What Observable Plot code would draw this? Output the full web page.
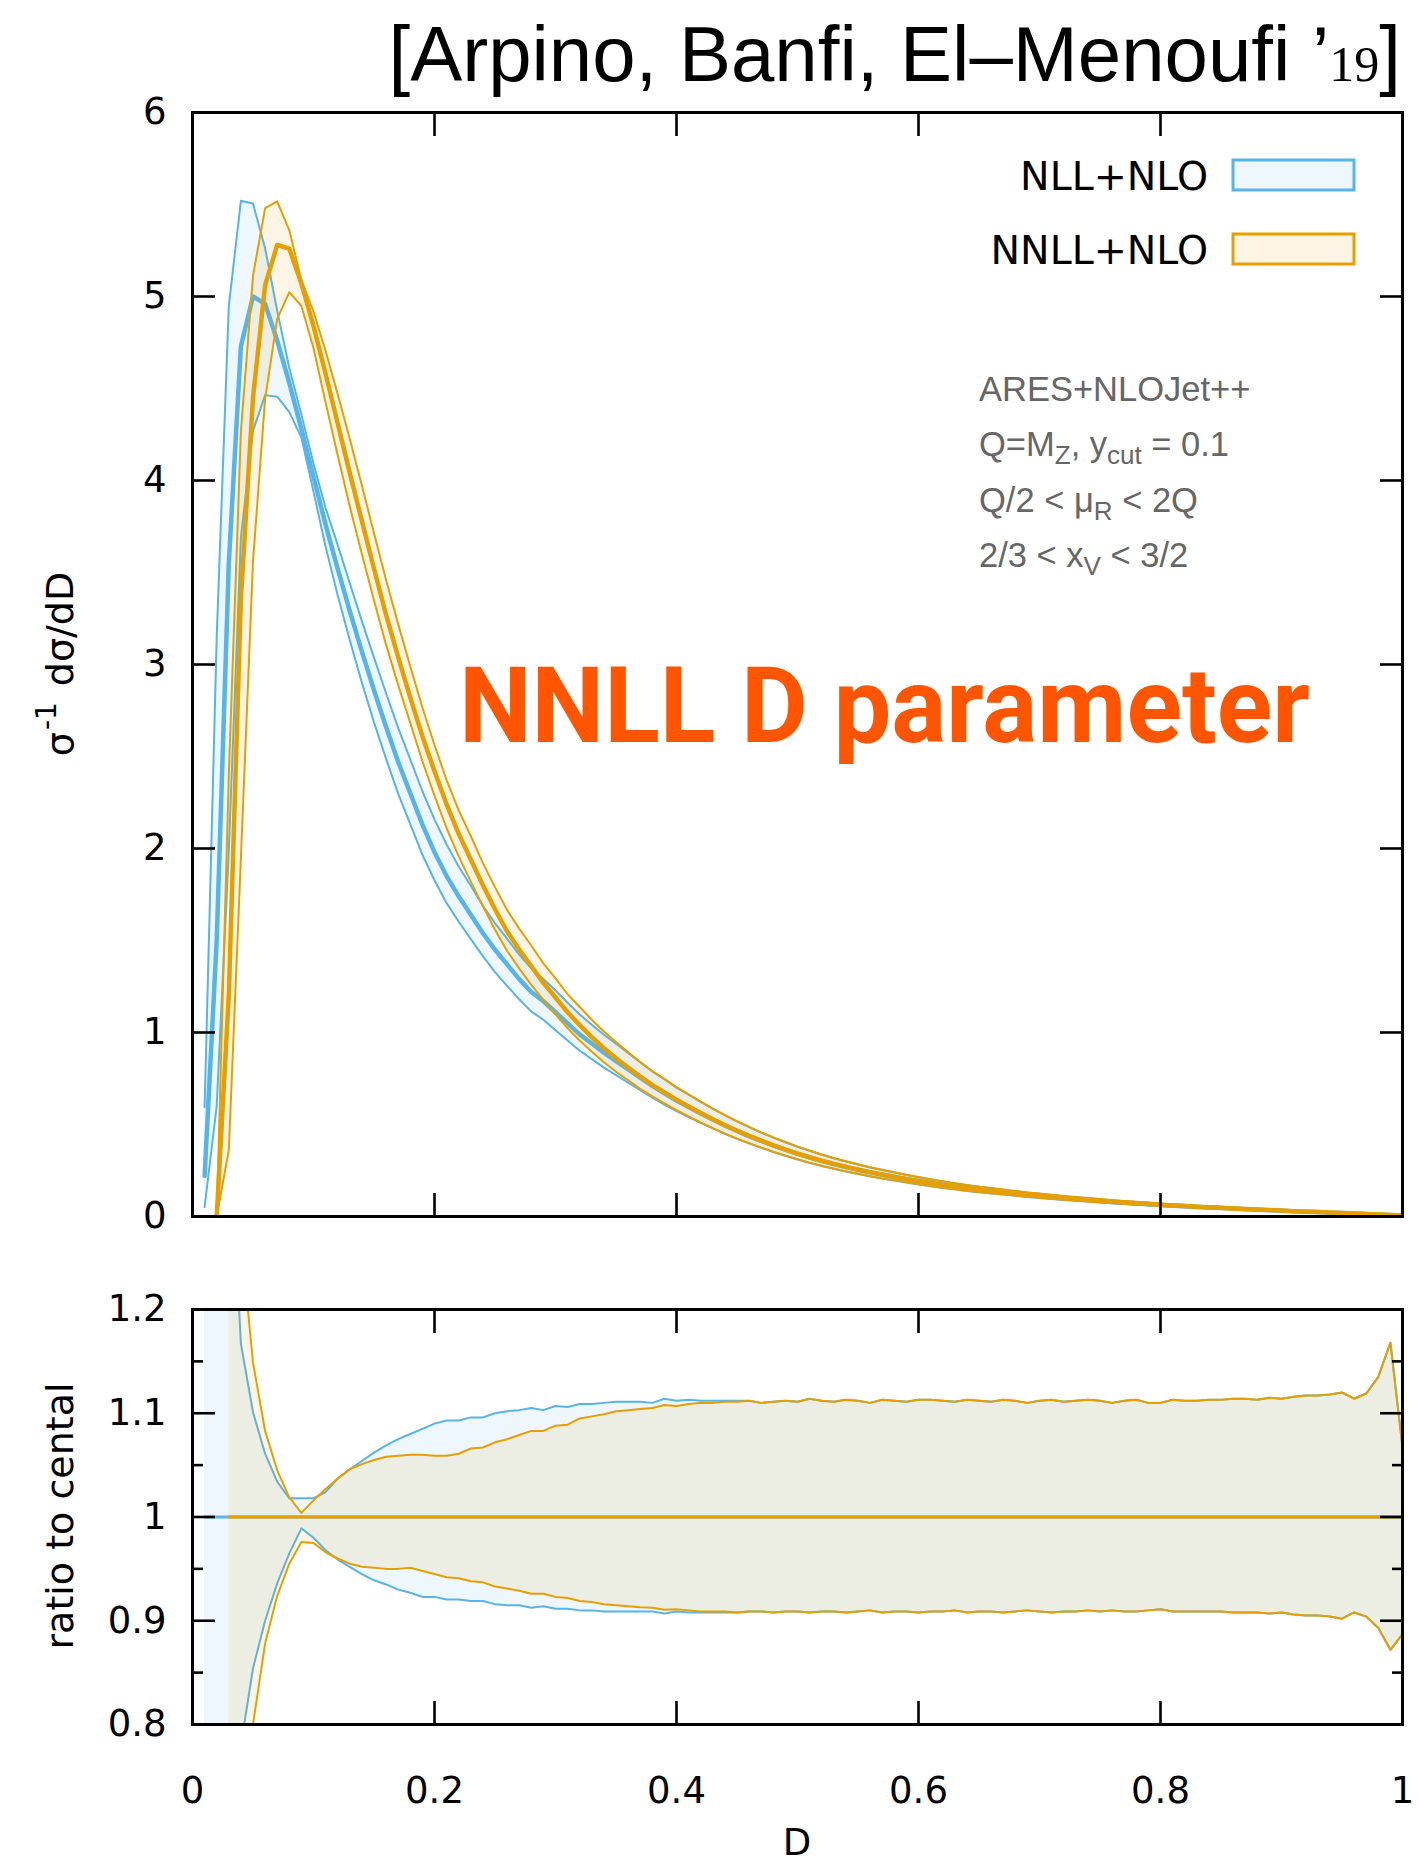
<!DOCTYPE html>
<html>
<head>
<meta charset="utf-8">
<script src="https://cdn.jsdelivr.net/npm/d3@7"></script>
<script src="https://cdn.jsdelivr.net/npm/@observablehq/plot@0.6"></script>
<style>
  html, body { margin: 0; padding: 0; background: #fff; }
  #fig { position: relative; width: 1420px; height: 1866px; overflow: hidden; }
  #fig svg { position: absolute; left: 0; display: block; overflow: visible; }
</style>
</head>
<body>
<div id="fig"></div>
<script>
// D-parameter bins
const D = [
  0.01,0.02,0.03,0.04,0.05,0.06,0.07,0.08,0.09,0.10,
  0.11,0.12,0.13,0.14,0.15,0.16,0.17,0.18,0.19,0.20,
  0.21,0.22,0.23,0.24,0.25,0.26,0.27,0.28,0.29,0.30,
  0.31,0.32,0.33,0.34,0.35,0.36,0.37,0.38,0.39,0.40,
  0.41,0.42,0.43,0.44,0.45,0.46,0.47,0.48,0.49,0.50,
  0.51,0.52,0.53,0.54,0.55,0.56,0.57,0.58,0.59,0.60,
  0.61,0.62,0.63,0.64,0.65,0.66,0.67,0.68,0.69,0.70,
  0.71,0.72,0.73,0.74,0.75,0.76,0.77,0.78,0.79,0.80,
  0.81,0.82,0.83,0.84,0.85,0.86,0.87,0.88,0.89,0.90,
  0.91,0.92,0.93,0.94,0.95,0.96,0.97,0.98,0.99,1.00
];

// NLL+NLO central value of (1/sigma) dsigma/dD
const nllCentral = [
  0.22,1.50,3.55,4.73,5.00,4.96,4.76,4.53,4.28,4.02,
  3.76,3.52,3.29,3.07,2.86,2.66,2.47,2.30,2.13,1.98,
  1.85,1.74,1.64,1.54,1.45,1.37,1.29,1.22,1.17,1.11,
  1.05,0.99,0.94,0.89,0.845,0.80,0.755,0.71,0.67,0.63,
  0.595,0.56,0.527,0.495,0.465,0.437,0.411,0.386,0.363,0.341,
  0.321,0.302,0.285,0.269,0.254,0.240,0.227,0.215,0.203,0.192,
  0.181,0.171,0.162,0.153,0.145,0.138,0.131,0.124,0.117,0.111,
  0.105,0.099,0.094,0.089,0.084,0.079,0.075,0.071,0.067,0.063,
  0.059,0.056,0.052,0.049,0.046,0.043,0.040,0.037,0.034,0.031,
  0.029,0.026,0.024,0.021,0.019,0.016,0.014,0.011,0.008,0.005
];

// NNLL+NLO central value
const nnllCentral = [
  null,0.00,1.20,3.36,4.45,5.06,5.28,5.26,5.07,4.84,
  4.58,4.31,4.04,3.78,3.52,3.27,3.04,2.82,2.61,2.42,
  2.24,2.08,1.94,1.80,1.67,1.55,1.45,1.36,1.27,1.19,
  1.11,1.04,0.975,0.915,0.86,0.81,0.76,0.715,0.675,0.635,
  0.598,0.562,0.528,0.496,0.466,0.438,0.412,0.387,0.364,0.342,
  0.322,0.303,0.286,0.270,0.255,0.241,0.228,0.216,0.204,0.193,
  0.182,0.172,0.163,0.154,0.146,0.139,0.132,0.125,0.118,0.112,
  0.106,0.100,0.095,0.090,0.085,0.080,0.076,0.072,0.068,0.064,
  0.060,0.057,0.053,0.050,0.047,0.044,0.041,0.038,0.035,0.032,
  0.029,0.027,0.024,0.022,0.019,0.017,0.014,0.011,0.008,0.005
];

// scale-variation envelope, as ratio to the central value
const nllUpper = [
  2.70,2.10,1.394,1.167,1.101,1.061,1.034,1.018,1.018,1.018,
  1.024,1.037,1.046,1.054,1.062,1.069,1.075,1.080,1.085,1.090,
  1.093,1.093,1.096,1.096,1.100,1.102,1.103,1.105,1.103,1.107,
  1.106,1.109,1.109,1.110,1.111,1.111,1.111,1.110,1.114,1.112,
  1.113,1.112,1.112,1.112,1.112,1.112,1.110,1.111,1.112,1.111,
  1.114,1.112,1.111,1.113,1.112,1.110,1.113,1.112,1.111,1.113,
  1.113,1.112,1.111,1.113,1.112,1.111,1.113,1.112,1.110,1.112,
  1.113,1.111,1.112,1.113,1.112,1.110,1.112,1.113,1.110,1.110,
  1.113,1.112,1.112,1.113,1.113,1.114,1.114,1.113,1.115,1.114,
  1.116,1.117,1.117,1.118,1.120,1.114,1.119,1.135,1.168,1.067
];
const nllLower = [
  0.23,0.40,0.56,0.78,0.854,0.900,0.936,0.965,0.989,0.980,
  0.968,0.959,0.952,0.945,0.939,0.935,0.930,0.927,0.923,0.923,
  0.9205,0.9205,0.919,0.919,0.916,0.915,0.915,0.9125,0.914,0.9115,
  0.9115,0.910,0.910,0.909,0.909,0.909,0.909,0.909,0.907,0.909,
  0.908,0.908,0.908,0.908,0.908,0.909,0.909,0.908,0.909,0.909,
  0.908,0.909,0.909,0.908,0.909,0.910,0.908,0.909,0.909,0.908,
  0.909,0.909,0.910,0.908,0.909,0.909,0.908,0.909,0.910,0.909,
  0.908,0.909,0.909,0.910,0.909,0.910,0.909,0.909,0.910,0.911,
  0.909,0.909,0.909,0.909,0.909,0.908,0.908,0.908,0.907,0.908,
  0.906,0.905,0.905,0.904,0.902,0.908,0.904,0.893,0.872,0.887
];
const nnllUpper = [
  null,null,2.00,1.27,1.149,1.083,1.045,1.019,1.004,1.016,
  1.027,1.037,1.046,1.051,1.055,1.058,1.059,1.060,1.060,1.059,
  1.059,1.061,1.066,1.067,1.072,1.075,1.079,1.083,1.083,1.088,
  1.089,1.095,1.097,1.099,1.102,1.103,1.104,1.105,1.108,1.107,
  1.109,1.110,1.110,1.111,1.111,1.112,1.110,1.111,1.112,1.111,
  1.114,1.112,1.111,1.113,1.112,1.110,1.113,1.112,1.111,1.113,
  1.113,1.112,1.111,1.113,1.112,1.111,1.113,1.112,1.110,1.112,
  1.113,1.111,1.112,1.113,1.112,1.110,1.112,1.113,1.110,1.110,
  1.113,1.112,1.112,1.113,1.113,1.114,1.114,1.113,1.115,1.114,
  1.116,1.117,1.117,1.118,1.120,1.114,1.119,1.135,1.168,1.067
];
const nnllLower = [
  null,null,0.30,0.58,0.80,0.878,0.924,0.955,0.976,0.975,
  0.966,0.960,0.955,0.952,0.951,0.950,0.950,0.951,0.948,0.945,
  0.942,0.941,0.938,0.937,0.933,0.931,0.929,0.926,0.926,0.923,
  0.922,0.919,0.918,0.916,0.915,0.914,0.913,0.9125,0.9105,0.911,
  0.910,0.909,0.909,0.909,0.908,0.909,0.909,0.908,0.909,0.909,
  0.908,0.909,0.909,0.908,0.909,0.910,0.908,0.909,0.909,0.908,
  0.909,0.909,0.910,0.908,0.909,0.909,0.908,0.909,0.910,0.909,
  0.908,0.909,0.909,0.910,0.909,0.910,0.909,0.909,0.910,0.911,
  0.909,0.909,0.909,0.909,0.909,0.908,0.908,0.908,0.907,0.908,
  0.906,0.905,0.905,0.904,0.902,0.908,0.904,0.893,0.872,0.887
];

// axis ticks
const xTicks = [0, 0.2, 0.4, 0.6, 0.8, 1];
const yTicksTop = [0, 1, 2, 3, 4, 5, 6];
const yTicksRatio = [0.8, 0.9, 1, 1.1, 1.2];
const yMinorRatio = [0.85, 0.95, 1.05, 1.15];

const series = [
  {name: "NLL+NLO", color: "#56B4E9", central: nllCentral, upper: nllUpper, lower: nllLower},
  {name: "NNLL+NLO", color: "#E69F00", central: nnllCentral, upper: nnllUpper, lower: nnllLower}
];

const SANS = "'Liberation Sans', Arial, Helvetica, sans-serif";
const AXIS = "'DejaVu Sans', 'Liberation Sans', sans-serif";
const SERIF = "'Liberation Serif', 'Times New Roman', serif";
const W = 1420, ML = 192, MR = 18;

// one row per bin, with the absolute band edges and the ratios
function rowsOf(s) {
  return D.map((d, i) => {
    const c = s.central[i];
    const ru = s.upper[i], rl = s.lower[i];
    return {
      D: d, c, ru, rl,
      up: c == null ? null : (ru == null ? c : c * ru),
      lo: c == null ? null : (rl == null ? c : c * rl)
    };
  }).filter(r => r.c != null);
}
const fmt = d => String(Math.round(d * 10) / 10);

// inward ticks on all four sides of the frame
function frameTicks(yMajor, yMinor) {
  const sw = 2.6, big = 23, small = 11;
  const m = [];
  for (const anchor of ["bottom", "top"]) {
    m.push(Plot.axisX(xTicks, {anchor, tickSize: -big, strokeWidth: sw, tickFormat: () => "", label: null}));
  }
  for (const anchor of ["left", "right"]) {
    m.push(Plot.axisY(yMajor, {anchor, tickSize: -big, strokeWidth: sw, tickFormat: () => "", label: null}));
    if (yMinor) m.push(Plot.axisY(yMinor, {anchor, tickSize: -small, strokeWidth: sw, tickFormat: () => "", label: null}));
  }
  return m;
}

function bandMarks(s, rows, ratio) {
  const thick = ratio ? 3 : 4.5, thin = 2;
  const y1 = ratio ? "rl" : "lo", y2 = ratio ? "ru" : "up";
  const data = ratio ? rows.filter(r => r.ru != null) : rows;
  return [
    Plot.areaY(data, {x: "D", y1, y2, fill: s.color, fillOpacity: 0.1, clip: true}),
    Plot.lineY(data, {x: "D", y: y2, stroke: s.color, strokeWidth: thin, clip: true}),
    Plot.lineY(data, {x: "D", y: y1, stroke: s.color, strokeWidth: thin, clip: true}),
    Plot.lineY(ratio ? rows.filter(r => r.c > 0) : rows,
      {x: "D", y: ratio ? (r => r.c / r.c) : "c", stroke: s.color, strokeWidth: thick, clip: true})
  ];
}

const rowsNLL = rowsOf(series[0]);
const rowsNNLL = rowsOf(series[1]);
const plotStyle = {fontFamily: AXIS, fontSize: "37px", color: "#000", background: "transparent", overflow: "visible"};

// ---------- distribution panel ----------
const TOP_H = 1260;
const topPlot = Plot.plot({
  width: W, height: TOP_H,
  marginLeft: ML, marginRight: MR, marginTop: 112, marginBottom: 44,
  x: {domain: [0, 1]},
  y: {domain: [0, 6]},
  style: plotStyle,
  marks: [
    ...bandMarks(series[0], rowsNLL, false),
    ...bandMarks(series[1], rowsNNLL, false),
    Plot.frame({stroke: "#000", strokeWidth: 3}),
    ...frameTicks(yTicksTop, null),
    Plot.axisY(yTicksTop, {anchor: "left", tickSize: 0, tickPadding: 26, tickFormat: fmt, label: null})
  ]
});

// ---------- ratio panel ----------
const BOT_H = 606;
const botPlot = Plot.plot({
  width: W, height: BOT_H,
  marginLeft: ML, marginRight: MR, marginTop: 49, marginBottom: 142,
  x: {domain: [0, 1]},
  y: {domain: [0.8, 1.2]},
  style: plotStyle,
  marks: [
    ...bandMarks(series[0], rowsNLL, true),
    ...bandMarks(series[1], rowsNNLL, true),
    Plot.frame({stroke: "#000", strokeWidth: 3}),
    ...frameTicks(yTicksRatio, yMinorRatio),
    Plot.axisY(yTicksRatio, {anchor: "left", tickSize: 0, tickPadding: 26, tickFormat: fmt, label: null}),
    Plot.axisX(xTicks, {anchor: "bottom", tickSize: 0, tickPadding: 52, tickFormat: fmt, label: null})
  ]
});

const fig = document.getElementById("fig");
topPlot.style.top = "0px";
botPlot.style.top = TOP_H + "px";
fig.append(topPlot, botPlot);

// ---------- text and legend ----------
const st = d3.select(topPlot);
const sb = d3.select(botPlot);

// header
const title = st.append("text")
  .attr("x", 1401).attr("y", 81).attr("text-anchor", "end")
  .style("font-family", SANS).style("font-size", "78px").attr("fill", "#000");
title.append("tspan").text("[Arpino, Banfi, El–Menoufi ’");
title.append("tspan").style("font-family", SERIF).style("font-size", "50px").text("19");
title.append("tspan").text("]");

// legend
const legendRows = [{s: series[0], y: 190}, {s: series[1], y: 264}];
for (const {s, y} of legendRows) {
  st.append("text").attr("x", 1208).attr("y", y).attr("text-anchor", "end")
    .style("font-family", AXIS).style("font-size", "39.5px").attr("fill", "#000").text(s.name);
  st.append("rect").attr("x", 1233).attr("y", y - 30).attr("width", 121).attr("height", 30)
    .attr("fill", s.color).attr("fill-opacity", 0.1).attr("stroke", s.color).attr("stroke-width", 3);
}

// run settings (with subscripts)
function note(y, parts) {
  const t = st.append("text").attr("x", 979).attr("y", y).attr("text-anchor", "start")
    .style("font-family", SANS).style("font-size", "34.5px").attr("fill", "#666");
  let shift = 0;
  for (const p of parts) {
    if (typeof p === "string") {
      t.append("tspan").attr("dy", -shift).text(p);
      shift = 0;
    } else {
      t.append("tspan").attr("dy", 8 - shift).style("font-size", "26px").text(p.sub);
      shift = 8;
    }
  }
}
note(401, ["ARES+NLOJet++"]);
note(456, ["Q=M", {sub: "Z"}, ", y", {sub: "cut"}, " = 0.1"]);
note(512, ["Q/2 < μ", {sub: "R"}, " < 2Q"]);
note(567, ["2/3 < x", {sub: "V"}, " < 3/2"]);

// headline
st.append("text").attr("x", 459).attr("y", 742).attr("text-anchor", "start")
  .attr("textLength", 851).attr("lengthAdjust", "spacingAndGlyphs")
  .style("font-family", "Roboto, 'Noto Sans', sans-serif").style("font-weight", "700")
  .style("font-size", "106px").attr("fill", "#FF5500").text("NNLL D parameter");

// axis titles
const yt = st.append("text").attr("transform", "translate(73,664) rotate(-90)")
  .attr("text-anchor", "middle").style("font-family", AXIS).style("font-size", "38px").attr("fill", "#000");
yt.append("tspan").text("σ");
yt.append("tspan").attr("dy", -17).attr("dx", 2).style("font-size", "28px").text("-1");
yt.append("tspan").attr("dy", 17).attr("dx", 16).text("dσ/dD");

sb.append("text").attr("transform", `translate(73,${1516 - TOP_H}) rotate(-90)`)
  .attr("text-anchor", "middle").style("font-family", AXIS).style("font-size", "38px").attr("fill", "#000")
  .text("ratio to cental");

sb.append("text").attr("x", 797).attr("y", 1855 - TOP_H).attr("text-anchor", "middle")
  .style("font-family", AXIS).style("font-size", "37px").attr("fill", "#000").text("D");
</script>
</body>
</html>
